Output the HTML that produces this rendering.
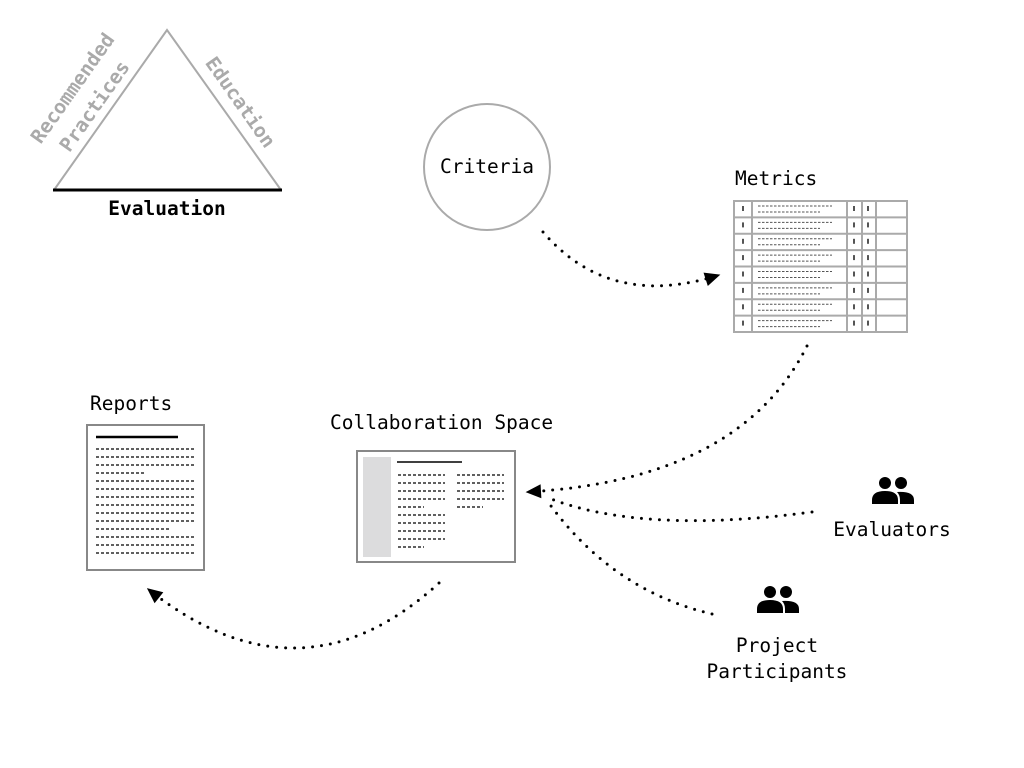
<!DOCTYPE html>
<html><head><meta charset="utf-8"><style>
html,body{margin:0;padding:0;background:#fff;width:1024px;height:768px;overflow:hidden}
text{font-family:"DejaVu Sans Mono","Liberation Mono",monospace}
</style></head><body>
<svg width="1024" height="768" viewBox="0 0 1024 768" xmlns="http://www.w3.org/2000/svg">
<defs>
<marker id="ah" viewBox="0 0 10 10" refX="9" refY="5" markerWidth="14" markerHeight="14" markerUnits="userSpaceOnUse" orient="auto" overflow="visible">
<path d="M-1,0 L10,5 L-1,10 z" fill="#000"/>
</marker>
</defs>
<!-- Triangle -->
<polyline points="54,190 167,30 281,190" fill="none" stroke="#aaa" stroke-width="2"/>
<line x1="53" y1="190" x2="282" y2="190" stroke="#000" stroke-width="3"/>
<text x="167" y="215" font-size="19.5" font-weight="bold" text-anchor="middle">Evaluation</text>
<text x="0" y="0" font-size="19.5" font-weight="bold" fill="#aaa" text-anchor="middle" transform="translate(78,92) rotate(-54.8)">Recommended</text>
<text x="0" y="0" font-size="19.5" font-weight="bold" fill="#aaa" text-anchor="middle" transform="translate(100,110) rotate(-54.8)">Practices</text>
<text x="0" y="0" font-size="19.5" font-weight="bold" fill="#aaa" text-anchor="middle" transform="translate(235,106) rotate(54.8)">Education</text>
<!-- Criteria -->
<circle cx="487" cy="167" r="63" fill="none" stroke="#aaa" stroke-width="2"/>
<text x="487" y="173" font-size="19.5" text-anchor="middle">Criteria</text>
<!-- Metrics -->
<text x="735" y="185" font-size="19.5">Metrics</text>
<g stroke="#aaa" stroke-width="2" fill="none">
<rect x="734" y="201" width="173" height="131"/>
<line x1="752" y1="201" x2="752" y2="332"/><line x1="847" y1="201" x2="847" y2="332"/>
<line x1="862" y1="201" x2="862" y2="332"/><line x1="876" y1="201" x2="876" y2="332"/>
<line x1="734" y1="217.4" x2="907" y2="217.4"/><line x1="734" y1="233.8" x2="907" y2="233.8"/>
<line x1="734" y1="250.1" x2="907" y2="250.1"/><line x1="734" y1="266.5" x2="907" y2="266.5"/>
<line x1="734" y1="282.9" x2="907" y2="282.9"/><line x1="734" y1="299.3" x2="907" y2="299.3"/>
<line x1="734" y1="315.6" x2="907" y2="315.6"/>
</g>
<g stroke="#555" stroke-width="1">
<g id="mrow">
<line x1="743" y1="206" x2="743" y2="211" stroke-width="2"/>
<line x1="854" y1="206" x2="854" y2="211" stroke-width="2"/>
<line x1="868" y1="206" x2="868" y2="211" stroke-width="2"/>
<line x1="758" y1="206" x2="832" y2="206" stroke-dasharray="2.5 1.5"/>
<line x1="758" y1="212" x2="820" y2="212" stroke-dasharray="2.5 1.5"/>
</g>
<use href="#mrow" y="16.4"/><use href="#mrow" y="32.8"/><use href="#mrow" y="49.1"/>
<use href="#mrow" y="65.5"/><use href="#mrow" y="81.9"/><use href="#mrow" y="98.3"/><use href="#mrow" y="114.6"/>
</g>
<!-- Reports -->
<text x="90" y="410" font-size="19.5">Reports</text>
<rect x="87" y="425" width="117" height="145" fill="#fff" stroke="#888" stroke-width="2"/>
<line x1="96" y1="437" x2="178" y2="437" stroke="#000" stroke-width="2.5"/>
<g stroke="#000" stroke-width="1.2" stroke-dasharray="3 2">
<line x1="96" y1="449" x2="195" y2="449"/><line x1="96" y1="457" x2="195" y2="457"/>
<line x1="96" y1="465" x2="195" y2="465"/><line x1="96" y1="473" x2="146" y2="473"/>
<line x1="96" y1="481" x2="195" y2="481"/><line x1="96" y1="489" x2="195" y2="489"/>
<line x1="96" y1="497" x2="195" y2="497"/><line x1="96" y1="505" x2="195" y2="505"/>
<line x1="96" y1="513" x2="195" y2="513"/><line x1="96" y1="521" x2="195" y2="521"/>
<line x1="96" y1="529" x2="169" y2="529"/><line x1="96" y1="537" x2="195" y2="537"/>
<line x1="96" y1="545" x2="195" y2="545"/><line x1="96" y1="553" x2="195" y2="553"/>
</g>
<!-- Collaboration -->
<text x="330" y="429" font-size="19.5">Collaboration Space</text>
<rect x="357" y="451" width="158" height="111" fill="#fff" stroke="#888" stroke-width="2"/>
<rect x="363" y="457" width="28" height="100" fill="#dcdcdd"/>
<line x1="397" y1="462" x2="462" y2="462" stroke="#000" stroke-width="1.5"/>
<g stroke="#000" stroke-width="1.2" stroke-dasharray="3 2">
<line x1="398" y1="475" x2="445" y2="475"/><line x1="398" y1="483" x2="445" y2="483"/>
<line x1="398" y1="491" x2="445" y2="491"/><line x1="398" y1="499" x2="445" y2="499"/>
<line x1="398" y1="507" x2="424" y2="507"/><line x1="398" y1="515" x2="445" y2="515"/>
<line x1="398" y1="523" x2="445" y2="523"/><line x1="398" y1="531" x2="445" y2="531"/>
<line x1="398" y1="539" x2="445" y2="539"/><line x1="398" y1="547" x2="424" y2="547"/>
<line x1="457" y1="475" x2="504" y2="475"/><line x1="457" y1="483" x2="504" y2="483"/>
<line x1="457" y1="491" x2="504" y2="491"/><line x1="457" y1="499" x2="504" y2="499"/>
<line x1="457" y1="507" x2="483" y2="507"/>
</g>
<!-- People icons -->
<g fill="#000">
<g id="ppl">
<circle cx="885" cy="483" r="6"/><circle cx="901" cy="483" r="6"/>
<path d="M872,504 v-4 q0,-9 13,-9 q13,0 13,9 v4 z"/>
<path d="M900,504 v-4 q0,-5 -3,-8 q17,-1 17,8 v4 z"/>
</g>
<use href="#ppl" x="-115" y="109"/>
</g>
<text x="892" y="536" font-size="19.5" text-anchor="middle">Evaluators</text>
<text x="777" y="652" font-size="19.5" text-anchor="middle">Project</text>
<text x="777" y="678" font-size="19.5" text-anchor="middle">Participants</text>
<!-- Connectors -->
<g fill="none" stroke="#000" stroke-width="3" stroke-linecap="round" stroke-dasharray="0 9" marker-end="url(#ah)">
<path d="M543,232 Q610,310 719,275"/>
<path d="M807,346 Q740,480 527,492"/>
<path d="M812,512 Q640,535 546,497" marker-end="none"/>
<path d="M712,614 Q610,590 546,499" marker-end="none"/>
<path d="M439,583 Q300,710 148,589"/>
</g>
</svg>
</body></html>
